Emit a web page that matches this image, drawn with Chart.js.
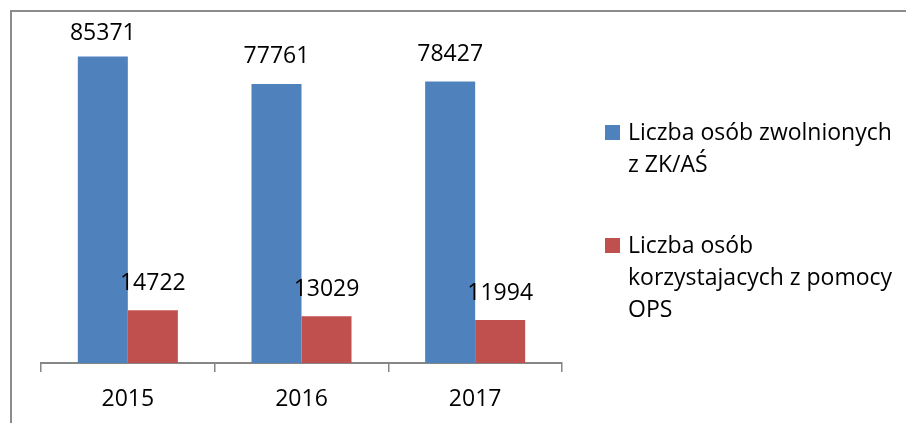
<!DOCTYPE html>
<html>
<head>
<meta charset="utf-8">
<script src="https://cdn.jsdelivr.net/npm/chart.js@4"></script>
<style>
  html, body { margin: 0; padding: 0; background: #fff; }
  #wrap { position: relative; width: 906px; height: 423px; }
</style>
</head>
<body>
<div id="wrap"><canvas id="chart"></canvas></div>
<script>
// data
const years = ['2015', '2016', '2017'];
const released = [85371, 77761, 78427];
const opsHelped = [14722, 13029, 11994];
const seriesNames = ['Liczba osób zwolnionych z ZK/AŚ', 'Liczba osób korzystajacych z pomocy OPS'];

const FONT = '"Open Sans", sans-serif';
const SIZE = 23;

// frame round the chart (only top and left edge are visible in the picture)
const framePlugin = {
    id: 'frame',
    beforeDraw(chart) {
        const ctx = chart.ctx;
        ctx.save();
        ctx.strokeStyle = '#8c8c8c';
        ctx.lineWidth = 2;
        ctx.beginPath();
        ctx.moveTo(11, chart.height + 2);
        ctx.lineTo(11, 11);
        ctx.lineTo(chart.width + 2, 11);
        ctx.stroke();
        ctx.restore();
    }
};

// value labels above each bar
const valuePlugin = {
    id: 'values',
    afterDatasetsDraw(chart) {
        const ctx = chart.ctx;
        ctx.save();
        ctx.font = SIZE + 'px ' + FONT;
        ctx.fillStyle = '#000';
        ctx.textAlign = 'center';
        ctx.textBaseline = 'middle';
        chart.data.datasets.forEach((ds, i) => {
            chart.getDatasetMeta(i).data.forEach((bar, j) => {
                ctx.fillText(String(ds.data[j]), bar.x, Math.max(bar.y - 27, 33));
            });
        });
        ctx.restore();
    }
};

// legend on the right, with wrapped labels
const sideLegend = {
    id: 'sideLegend',
    afterDraw(chart) {
        const ctx = chart.ctx;
        const maxW = 276, pitch = 32, gap = 81;
        ctx.save();
        ctx.font = SIZE + 'px ' + FONT;
        ctx.textAlign = 'left';
        ctx.textBaseline = 'alphabetic';
        let y = 140;
        chart.data.datasets.forEach(ds => {
            const words = ds.label.split(' ');
            const lines = [];
            let cur = '';
            words.forEach(w => {
                const t = cur ? cur + ' ' + w : w;
                if (cur && ctx.measureText(t).width > maxW) { lines.push(cur); cur = w; }
                else cur = t;
            });
            if (cur) lines.push(cur);
            ctx.fillStyle = ds.backgroundColor;
            ctx.fillRect(605, y - 15, 15, 15);
            ctx.fillStyle = '#000';
            lines.forEach((ln, k) => ctx.fillText(ln, 628, y + k * pitch));
            y += (lines.length - 1) * pitch + gap;
        });
        ctx.restore();
    }
};

new Chart(document.getElementById('chart'), {
    type: 'bar',
    data: {
        labels: years,
        datasets: [
            { label: seriesNames[0], data: released, backgroundColor: '#4f81bd' },
            { label: seriesNames[1], data: opsHelped, backgroundColor: '#c0504d' },
        ],
    },
    options: {
        responsive: true, maintainAspectRatio: false,
        animation: false,
        datasets: { bar: { categoryPercentage: 0.576, barPercentage: 1 } },
        layout: { padding: { left: 41, right: 344, top: 40, bottom: 0 } },
        plugins: { legend: { display: false }, tooltip: { enabled: false } },
        scales: {
            x: {
                grid: { display: true, drawOnChartArea: false, offset: true, tickLength: 9, color: '#868686', lineWidth: 1.5 },
                border: { display: true, color: '#868686', width: 2 },
                ticks: { color: '#000', font: { family: FONT, size: SIZE }, padding: 14 },
                afterFit: s => { s.height = 60; },
            },
            y: { display: false, min: 0, max: 90000 },
        },
    },
    plugins: [framePlugin, valuePlugin, sideLegend],
});
</script>
</body>
</html>
